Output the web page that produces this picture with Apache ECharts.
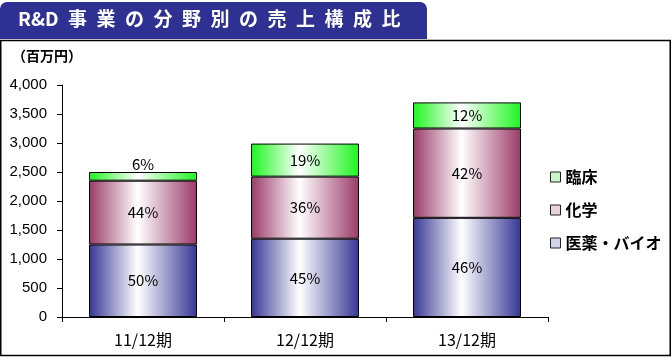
<!DOCTYPE html>
<html><head><meta charset="utf-8">
<script src="https://cdn.jsdelivr.net/npm/echarts@6/dist/echarts.min.js"></script>
<style>html,body{margin:0;padding:0;background:#fff}#c{width:672px;height:357px}</style>
</head><body><div id="c"></div>
<script>
// ---- data ----
const categories = ['11/12期', '12/12期', '13/12期'];
const pharmaBio = [1250, 1350, 1710];   // 医薬・バイオ
const chemistry = [1100, 1070, 1540];   // 化学
const clinical  = [150, 570, 450];      // 臨床
const pharmaBioPct = ['50%', '45%', '46%'];
const chemistryPct = ['44%', '36%', '42%'];
const clinicalPct  = ['6%', '19%', '12%'];
const yMin = 0, yMax = 4000, yInterval = 500;
const titleText = 'R&D\u2002事\u2002業\u2002の\u2002分\u2002野\u2002別\u2002の\u2002売\u2002上\u2002構\u2002成\u2002比';
const unitText = '（百万円）';

// ---- chart ----
const JP = '"Noto Sans CJK JP", "Noto Sans", sans-serif';
function grad(dark) {
  return new echarts.graphic.LinearGradient(0, 0, 1, 0, [
    { offset: 0, color: dark },
    { offset: 0.45, color: '#ffffff' },
    { offset: 1, color: dark }
  ]);
}
function makeSeries(name, values, pcts, dark, smallFirst) {
  return {
    name: name,
    type: 'bar',
    stack: 'total',
    barWidth: 108,
    data: values.map((v, i) => {
      const d = { value: v };
      if (smallFirst && i === 0) d.label = { position: 'top', distance: 0 };
      return d;
    }),
    itemStyle: { color: grad(dark), borderColor: '#000', borderWidth: 1 },
    label: {
      show: true, position: 'inside', color: '#000',
      fontFamily: JP, fontSize: 15,
      formatter: p => pcts[p.dataIndex]
    },
    emphasis: { disabled: true }
  };
}
const chart = echarts.init(document.getElementById('c'));
chart.setOption({
  animation: false,
  backgroundColor: '#fff',
  grid: { left: 62, right: 124, top: 85, bottom: 40, containLabel: false },
  xAxis: {
    type: 'category', data: categories,
    axisLine: { lineStyle: { color: '#000', width: 1 } },
    axisTick: { show: true, length: 5, lineStyle: { color: '#000' } },
    axisLabel: { color: '#000', fontFamily: JP, fontSize: 16, margin: 15 }
  },
  yAxis: {
    type: 'value', min: yMin, max: yMax, interval: yInterval,
    axisLine: { show: true, lineStyle: { color: '#000', width: 1 } },
    axisTick: { show: true, length: 5, lineStyle: { color: '#000' } },
    splitLine: { show: false },
    axisLabel: {
      color: '#000', fontFamily: '"Liberation Sans", Arial, sans-serif', fontSize: 15, margin: 15,
      formatter: v => v.toLocaleString('en-US')
    }
  },
  legend: {
    orient: 'vertical', left: 545, top: 164,
    itemWidth: 10, itemHeight: 10, itemGap: 17,
    icon: 'rect',
    textStyle: { color: '#000', fontFamily: JP, fontSize: 16, fontWeight: 'bold' },
    data: [
      { name: '臨床', itemStyle: { color: '#c9f7c9', borderColor: '#222', borderWidth: 1 } },
      { name: '化学', itemStyle: { color: '#ead3dc', borderColor: '#222', borderWidth: 1 } },
      { name: '医薬・バイオ', itemStyle: { color: '#d3d3ec', borderColor: '#222', borderWidth: 1 } }
    ]
  },
  series: [
    makeSeries('医薬・バイオ', pharmaBio, pharmaBioPct, '#363694'),
    makeSeries('化学', chemistry, chemistryPct, '#9a3a68'),
    makeSeries('臨床', clinical, clinicalPct, '#1ef51e', true)
  ],
  graphic: [
    { type: 'rect', shape: { x: 0, y: 2, width: 427, height: 37, r: [7, 7, 0, 0] },
      style: { fill: '#2e3192' }, silent: true },
    { type: 'text', left: 18, top: 9,
      style: { text: titleText, fill: '#fff', font: 'bold 19px ' + JP }, silent: true },
    { type: 'rect', shape: { x: 0.75, y: 40.5, width: 669.5, height: 315 },
      style: { fill: 'none', stroke: '#000', lineWidth: 1.5 }, silent: true },
    { type: 'text', left: 12, top: 49,
      style: { text: unitText, fill: '#000', font: 'bold 14px ' + JP }, silent: true }
  ]
});
</script>
</body></html>
